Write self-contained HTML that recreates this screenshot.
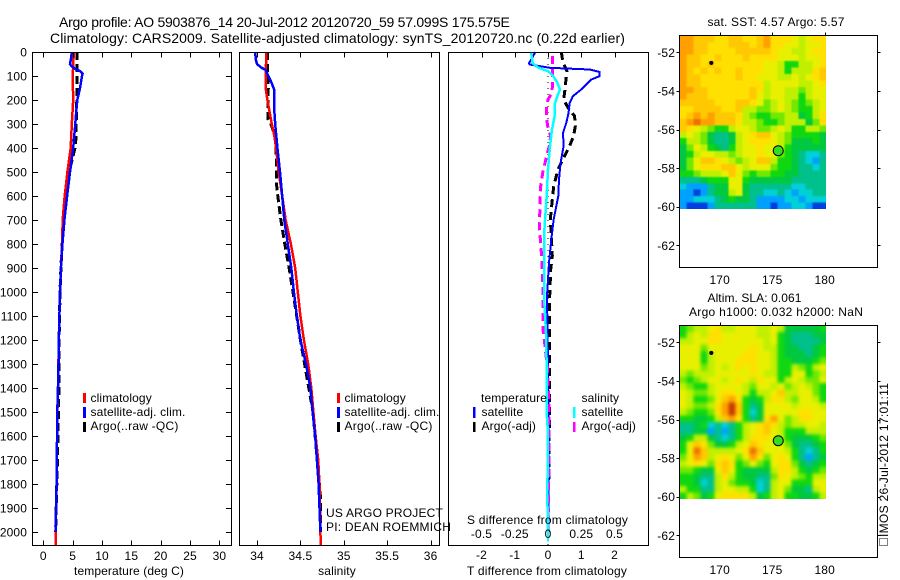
<!DOCTYPE html>
<html lang="en">
<head>
<meta charset="utf-8">
<title>Argo profile 5903876_14</title>
<style>
html,body{margin:0;padding:0;background:#fff;}
svg{display:block;}
text{font-family:"Liberation Sans",sans-serif;font-size:12px;fill:#000;letter-spacing:0.12px;}
</style>
</head>
<body>
<svg id="chart" xmlns="http://www.w3.org/2000/svg" width="900" height="580" viewBox="0 0 900 580">
  <defs>
    <filter id="blur-sst" color-interpolation-filters="sRGB"><feGaussianBlur stdDeviation="0.8"/></filter>
    <filter id="blur-sla" color-interpolation-filters="sRGB"><feGaussianBlur stdDeviation="1.6"/></filter>
    <clipPath id="clip-sst"><rect x="679" y="35" width="147" height="174"/></clipPath>
    <clipPath id="clip-sla"><rect x="679" y="325" width="147" height="174"/></clipPath>
  </defs>
  <rect x="0" y="0" width="900" height="580" fill="#fff"/>
  <text x="59" y="27" style="font-size:14px" textLength="451" lengthAdjust="spacing">Argo profile: AO 5903876_14 20-Jul-2012 20120720_59 57.099S 175.575E</text>
  <text x="50" y="43" style="font-size:14px" textLength="575" lengthAdjust="spacing">Climatology: CARS2009. Satellite-adjusted climatology: synTS_20120720.nc (0.22d earlier)</text>
  <g id="panels"></g>
  <g id="overlay">
    <text x="74" y="575" textLength="110" lengthAdjust="spacing">temperature (deg C)</text>
    <text x="337" y="575" text-anchor="middle">salinity</text>
    <text x="467" y="575" textLength="160" lengthAdjust="spacing">T difference from climatology</text>
    <text x="467" y="524" textLength="161" lengthAdjust="spacing">S difference from climatology</text>
    <text x="326" y="517" textLength="117" lengthAdjust="spacing">US ARGO PROJECT</text>
    <text x="326" y="531" textLength="125" lengthAdjust="spacing">PI: DEAN ROEMMICH</text>

    <rect x="83" y="393" width="3" height="10" fill="#f00"/>
    <rect x="83" y="407" width="3" height="11" fill="#00f"/>
    <rect x="83" y="422" width="3" height="10" fill="#000"/>
    <text x="90.5" y="402">climatology</text>
    <text x="90.5" y="416" textLength="95" lengthAdjust="spacing">satellite-adj. clim.</text>
    <text x="90.5" y="430" textLength="88" lengthAdjust="spacing">Argo(..raw -QC)</text>

    <rect x="337" y="393" width="3" height="10" fill="#f00"/>
    <rect x="337" y="407" width="3" height="11" fill="#00f"/>
    <rect x="337" y="422" width="3" height="10" fill="#000"/>
    <text x="344.5" y="402">climatology</text>
    <text x="344.5" y="416" textLength="95" lengthAdjust="spacing">satellite-adj. clim.</text>
    <text x="344.5" y="430" textLength="88" lengthAdjust="spacing">Argo(..raw -QC)</text>

    <text x="481" y="402">temperature</text>
    <rect x="473" y="407" width="2.5" height="11" fill="#00f"/>
    <rect x="473" y="422" width="2.5" height="10" fill="#000"/>
    <text x="481.5" y="416">satellite</text>
    <text x="481.5" y="430">Argo(-adj)</text>
    <text x="581.5" y="402">salinity</text>
    <rect x="573" y="407" width="2.5" height="11" fill="#0ff"/>
    <rect x="573" y="422" width="2.5" height="10" fill="#f0f"/>
    <text x="581.5" y="416">satellite</text>
    <text x="581.5" y="430">Argo(-adj)</text>

    <text x="707.5" y="26" textLength="137" lengthAdjust="spacing">sat. SST: 4.57 Argo: 5.57</text>
    <text x="707.5" y="302" textLength="94" lengthAdjust="spacing">Altim. SLA: 0.061</text>
    <text x="689" y="316" textLength="174" lengthAdjust="spacing">Argo h1000: 0.032 h2000: NaN</text>

    <text transform="translate(888,537) rotate(-90)" textLength="154" lengthAdjust="spacing">IMOS 26-Jul-2012 17:01:11</text>
    <rect x="879.5" y="538.5" width="8" height="7" fill="none" stroke="#000" stroke-width="1" stroke-dasharray="1 1" shape-rendering="crispEdges"/>
  </g>
</svg>
<script>
// ---------- profile data: depth (m) + value ----------
const tClimDepth = [0,100,200,300,400,500,600,700,800,900,1000,1100,1200,1300,1400,1500,1600,1700,1800,1900,2000,2054];
const tClimValue = [5.2,5.0,5.1,4.85,4.67,4.1,3.65,3.3,3.2,3.0,2.85,2.75,2.65,2.58,2.5,2.4,2.35,2.3,2.27,2.18,2.08,2.08];
const tSatDepth = [0,30,50,60,70,80,90,100,150,200,250,300,400,500,600,700,800,900,1000,1100,1200,1350,1500,1800,2000];
const tSatValue = [4.85,4.7,4.55,4.85,5.4,6.25,6.7,6.6,6.25,5.8,5.6,5.45,5.1,4.55,4.05,3.6,3.25,3.0,2.85,2.75,2.65,2.55,2.38,2.27,2.08];
const tArgoDepth = [0,100,200,300,350,400,500,600,700,800,900,1000,1200,1400,1700,2000];
const tArgoValue = [5.7,5.7,5.7,5.6,5.6,5.4,4.4,3.87,3.4,3.2,3.0,2.85,2.7,2.67,2.4,2.1];

const sClimDepth = [0,100,150,200,300,350,400,500,600,700,800,900,1000,1100,1200,1300,1400,1500,1600,1700,1800,2000,2054];
const sClimValue = [34.107,34.1,34.1,34.12,34.17,34.2,34.22,34.25,34.29,34.33,34.39,34.44,34.47,34.5,34.54,34.59,34.625,34.65,34.675,34.705,34.72,34.73,34.735];
const sSatDepth = [0,30,50,65,75,100,130,160,250,300,400,500,600,700,800,900,1000,1100,1200,1300,1400,1500,1600,1700,1800,1900,2000];
const sSatValue = [33.98,33.985,34.0,34.05,34.1,34.13,34.17,34.2,34.2,34.21,34.235,34.265,34.29,34.315,34.355,34.395,34.425,34.46,34.5,34.565,34.615,34.64,34.67,34.69,34.71,34.72,34.73];
const sArgoDepth = [0,100,150,200,280,300,350,400,500,550,600,700,800,900,1000,1200,1500,1850,2000];
const sArgoValue = [34.12,34.12,34.13,34.125,34.125,34.16,34.21,34.22,34.225,34.225,34.24,34.275,34.32,34.37,34.415,34.5,34.645,34.73,34.73];

const dtSatDepth = [0,47,52,66,73,83,101,115,156,184,212,253,295,337,392,462,531,600,697,781,878,1017,1300,1600,2000];
const dtSatValue = [-0.38,-0.57,-0.55,0.05,1.25,1.55,1.55,1.3,1.0,0.75,0.65,0.62,0.55,0.45,0.47,0.38,0.33,0.31,0.17,0.1,0.03,-0.03,0,0.02,0.02];
const dtArgoDepth = [0,26,52,80,128,170,198,232,267,309,350,392,433,489,559,628,697,767,850,906,1017,1408,1800];
const dtArgoValue = [0.4,0.43,0.48,0.57,0.53,0.5,0.47,0.6,0.8,0.82,0.77,0.65,0.5,0.3,0.17,0.12,0.07,0.1,0.13,0.08,0.05,0.05,0.02];
const dsSatDepth = [0,47,66,80,101,128,156,184,219,267,323,392,489,600,683,767,878,1017,1172,1310,1505,1589,1853,1992,2040];
const dsSatValue = [-0.128,-0.115,-0.07,0,0.04,0.07,0.09,0.07,0.05,0.05,0.03,0.015,0,-0.01,-0.02,-0.03,-0.03,-0.03,-0.015,-0.01,-0.01,0,-0.005,0,0];
const dsArgoDepth = [17,73,115,170,198,226,281,316,350,392,433,503,559,628,739,794,878,1017,1075,1158,1200,1311,1450,1728,1992];
const dsArgoValue = [0.035,0.035,0.035,0.03,0,-0.01,-0.01,0,0.02,0.01,-0.01,-0.04,-0.055,-0.06,-0.065,-0.055,-0.045,-0.035,-0.037,-0.037,-0.028,-0.005,0.007,0.007,0];
const zeroLineDepth = [0,2054];
const zeroLineValue = [0,0];

// ---------- tick labels ----------
const depthTicks = [0,100,200,300,400,500,600,700,800,900,1000,1100,1200,1300,1400,1500,1600,1700,1800,1900,2000];
const tempTicks = [0,5,10,15,20,25,30];
const salTicks = [34,34.5,35,35.5,36];
const dtTicks = [-2,-1,0,1,2];
const dsTicks = [-0.5,-0.25,0,0.25,0.5];
const lonTicks = [170,175,180];
const latTicks = [-52,-54,-56,-58,-60,-62];

// ---------- map data ----------
const floatLon = [175.575];
const floatLat = [-57.099];
const markerLon = [169.2];
const markerLat = [-52.55];
const gridLonStart = [166.15];
const gridLatStart = [-51.12];
const gridLonStep = [0.6667];
const gridLatStep = [0.3333];

const levelColors = ['#0040e0','#00a0ff','#00d0d8','#00c08c','#00c840','#10d810','#70e800','#c0f000','#e8f000','#ffe000','#ffc800','#ffa000','#f07000','#c83c00'];

const sstGrid = [
[11,11,10,10,10,9,9,10,10,9,9,10,11,9,9,9,8,7,8,9,9],
[11,11,10,10,9,9,9,10,10,10,9,10,11,9,9,8,8,7,8,8,9],
[11,11,10,10,9,9,9,9,10,10,10,10,10,9,8,8,7,7,8,9,9],
[11,10,10,9,9,10,9,9,9,10,9,9,9,9,8,8,8,7,8,8,9],
[11,10,10,9,10,9,9,9,9,9,9,9,8,8,7,5,5,7,7,8,9],
[11,10,9,10,9,10,9,9,10,9,9,9,8,8,7,5,7,7,7,9,10],
[11,10,10,9,9,9,9,9,10,9,9,8,8,8,7,7,8,7,8,9,10],
[11,10,10,9,9,9,9,9,9,9,9,9,7,8,8,8,8,7,7,8,9],
[11,11,10,10,9,9,9,9,9,9,10,9,7,8,8,7,7,6,7,8,8],
[11,10,10,10,9,9,9,9,9,9,10,8,7,8,8,7,7,5,7,8,8],
[10,10,10,10,10,9,9,9,10,10,9,8,6,7,8,7,6,5,6,7,8],
[9,9,10,10,10,10,9,9,10,7,7,6,6,7,8,7,6,5,5,7,8],
[9,10,11,10,11,10,10,10,9,7,6,5,5,6,6,7,7,4,5,7,9],
[10,11,12,11,11,10,10,10,9,7,7,6,5,5,6,7,7,7,4,6,9],
[10,9,8,7,6,5,5,7,8,8,7,6,6,7,8,7,5,5,7,7,6],
[7,8,7,6,4,3,3,4,7,8,9,10,10,8,7,6,5,5,5,5,4],
[5,7,7,6,4,3,3,4,7,8,9,9,9,8,7,6,4,4,4,5,4],
[4,6,8,7,5,4,3,5,7,8,8,9,8,8,7,5,4,4,4,4,4],
[4,5,7,8,8,7,7,6,7,8,8,9,8,8,6,5,4,3,2,2,3],
[4,6,8,10,10,9,8,7,6,7,8,10,10,7,5,5,4,3,2,1,3],
[4,6,8,9,9,9,10,10,8,7,8,8,8,6,5,5,4,3,3,2,3],
[5,5,6,7,7,7,8,10,8,6,5,6,6,5,5,4,4,3,3,3,3],
[3,3,3,4,5,5,5,8,8,5,4,4,4,4,4,4,3,3,3,3,3],
[2,1,1,1,3,4,4,8,8,4,3,3,3,3,3,3,2,2,3,3,3],
[1,1,0,1,3,4,4,7,8,4,3,3,2,2,3,2,1,2,2,3,3],
[1,1,2,2,2,3,4,5,4,4,3,1,1,1,1,2,2,1,2,2,2],
[1,0,0,0,1,3,3,3,3,3,3,1,1,0,1,1,2,2,1,0,0]
];

const slaGrid = [
[5,6,7,7,8,9,7,7,8,8,8,7,7,8,7,4,4,4,4,4,5],
[5,7,8,7,9,9,8,8,8,8,8,7,7,8,5,4,3,3,3,4,4],
[7,7,8,8,9,9,8,8,8,8,8,8,7,8,5,4,3,3,3,3,4],
[8,8,8,6,8,8,8,8,8,8,9,8,7,7,5,4,4,3,3,4,5],
[8,8,8,5,7,8,8,8,8,9,9,8,8,7,5,4,4,4,3,4,5],
[8,8,8,5,7,8,8,8,9,9,9,8,8,7,5,5,4,4,4,5,6],
[8,8,8,6,7,8,7,8,9,8,9,8,8,7,5,5,7,6,5,7,8],
[7,6,7,7,7,8,8,8,8,8,9,8,7,7,5,5,8,8,5,6,7],
[6,5,6,7,8,8,7,8,9,8,7,9,8,8,5,7,8,7,6,6,8],
[7,6,5,5,7,8,8,8,8,7,6,8,8,7,8,6,7,8,7,6,5],
[8,7,6,6,7,8,9,9,8,7,5,7,7,8,10,7,7,8,8,6,5],
[8,7,5,5,6,8,10,11,9,5,4,5,7,9,9,7,6,8,8,7,5],
[8,7,6,6,7,9,11,13,10,5,3,4,8,8,8,8,7,8,8,8,7],
[7,6,5,5,6,9,11,13,10,5,2,4,8,8,8,8,8,9,9,8,8],
[5,5,4,4,5,7,10,11,9,5,3,4,9,11,8,6,7,9,9,8,8],
[3,3,4,5,2,3,2,3,5,7,8,9,10,9,7,6,7,7,8,8,7],
[3,3,4,4,1,3,1,3,5,7,8,9,10,8,7,5,5,5,7,7,7],
[4,5,7,7,4,3,2,3,5,7,9,9,9,8,7,5,4,4,4,5,6],
[5,8,10,9,6,4,4,5,7,8,10,9,8,8,8,6,4,3,3,4,5],
[5,8,12,10,7,7,7,7,8,9,12,10,8,8,8,7,5,3,2,3,5],
[6,8,11,10,7,8,9,8,6,8,11,9,6,8,9,8,5,3,1,3,4],
[7,8,9,8,6,9,10,9,5,6,8,6,5,8,9,9,6,4,3,4,5],
[6,6,5,4,4,8,10,8,5,4,4,4,4,7,9,9,7,5,4,5,6],
[5,5,4,3,3,7,9,7,5,4,4,3,3,6,9,8,7,6,5,7,7],
[5,5,4,2,3,7,8,6,5,5,4,2,3,7,8,8,5,5,5,8,8],
[7,5,5,3,3,7,8,8,7,7,5,2,3,7,8,6,4,4,3,7,8],
[5,7,6,4,5,8,9,9,9,9,7,4,5,7,8,5,5,4,4,5,7]
];

// ---------- axis functions ----------
const NS = 'http://www.w3.org/2000/svg';
const panels = document.getElementById('panels');
const depthY = d => 52 + 0.24 * d;
const tempX = t => 43.3 + 5.87 * t;
const salX = s => 257 + 86.8 * (s - 34);
const dtX = t => 548 + 33.25 * t;
const dsX = s => 548 + 133 * s;
const lonX = lon => 719.7 + 10.5 * (lon - 170);
const latOffset = (lat) => 19.3 * (-52 - lat);

function drawProfile(depths, values, xFn, color, width, dash, name) {
  const el = document.createElementNS(NS, 'polyline');
  
  
  el.setAttribute('points', depths.map((d, i) => xFn(values[i]).toFixed(1) + ',' + depthY(d).toFixed(1)).join(' '));
  el.setAttribute('fill', 'none');
  el.setAttribute('stroke', color);
  el.setAttribute('stroke-width', width);
  el.setAttribute('shape-rendering', 'crispEdges');
  if (dash) el.setAttribute('stroke-dasharray', dash);
  panels.appendChild(el);
}

function drawFrame(x, y, w, h, name) {
  const el = document.createElementNS(NS, 'rect');
  
  
  el.setAttribute('x', x);
  el.setAttribute('y', y);
  el.setAttribute('width', w);
  el.setAttribute('height', h);
  el.setAttribute('fill', 'none');
  el.setAttribute('stroke', '#000');
  el.setAttribute('stroke-width', 1);
  el.setAttribute('shape-rendering', 'crispEdges');
  panels.appendChild(el);
}

function drawTick(x1, y1, x2, y2, name) {
  const el = document.createElementNS(NS, 'line');
  
  
  el.setAttribute('x1', x1);
  el.setAttribute('y1', y1);
  el.setAttribute('x2', x2);
  el.setAttribute('y2', y2);
  el.setAttribute('stroke', '#000');
  el.setAttribute('stroke-width', 1);
  el.setAttribute('shape-rendering', 'crispEdges');
  panels.appendChild(el);
}

function drawLabel(x, y, str, anchor, name) {
  const el = document.createElementNS(NS, 'text');
  
  
  el.setAttribute('x', x);
  el.setAttribute('y', y);
  el.setAttribute('text-anchor', anchor);
  el.textContent = str;
  panels.appendChild(el);
}

function drawCell(parent, x, y, w, h, color, name) {
  const el = document.createElementNS(NS, 'rect');
  
  
  el.setAttribute('x', x.toFixed(2));
  el.setAttribute('y', y.toFixed(2));
  el.setAttribute('width', w.toFixed(2));
  el.setAttribute('height', h.toFixed(2));
  el.setAttribute('fill', color);
  el.setAttribute('shape-rendering', 'crispEdges');
  parent.appendChild(el);
}

function drawCircle(cx, cy, r, fill, stroke, name) {
  const el = document.createElementNS(NS, 'circle');
  
  
  el.setAttribute('cx', cx);
  el.setAttribute('cy', cy);
  el.setAttribute('r', r);
  el.setAttribute('fill', fill);
  el.setAttribute('stroke', stroke);
  panels.appendChild(el);
}

const TOP = 52.5, BOTTOM = 545.5;

// ---------- profile panels: series ----------
drawProfile(tArgoDepth, tArgoValue, tempX, '#000', 3, '8 4', 'temperature-argo-line');
drawProfile(tClimDepth, tClimValue, tempX, '#f00', 2.5, null, 'temperature-climatology-line');
drawProfile(tSatDepth, tSatValue, tempX, '#00f', 2.5, null, 'temperature-satellite-line');

drawProfile(sArgoDepth, sArgoValue, salX, '#000', 3, '8 4', 'salinity-argo-line');
drawProfile(sClimDepth, sClimValue, salX, '#f00', 2.5, null, 'salinity-climatology-line');
drawProfile(sSatDepth, sSatValue, salX, '#00f', 2.5, null, 'salinity-satellite-line');

drawProfile(zeroLineDepth, zeroLineValue, dtX, '#000', 1, '1 5', 'difference-zero-line');
drawProfile(dtArgoDepth, dtArgoValue, dtX, '#000', 3, '8 5', 't-difference-argo-line');
drawProfile(dtSatDepth, dtSatValue, dtX, '#00f', 2, null, 't-difference-satellite-line');
drawProfile(dsArgoDepth, dsArgoValue, dsX, '#f0f', 3, '8 5', 's-difference-argo-line');
drawProfile(dsSatDepth, dsSatValue, dsX, '#0ff', 2.5, null, 's-difference-satellite-line');

// ---------- profile panels: frames, ticks, labels ----------
drawFrame(32.5, TOP, 199, 493, 'temperature-panel-frame');
drawFrame(239.5, TOP, 200, 493, 'salinity-panel-frame');
drawFrame(448.5, TOP, 200, 493, 'difference-panel-frame');

depthTicks.forEach(d => {
  const y = Math.round(depthY(d)) + 0.5;
  drawTick(32.5, y, 38, y, 'depth-tick-left');
  drawTick(226, y, 231.5, y, 'depth-tick-right');
  drawLabel(27, depthY(d) + 4.5, String(d), 'end', 'depth-tick-label');
});
tempTicks.forEach(t => {
  const x = Math.round(tempX(t)) + 0.5;
  drawTick(x, TOP, x, TOP + 5, 'temperature-tick-top');
  drawTick(x, BOTTOM - 5, x, BOTTOM, 'temperature-tick-bottom');
  drawLabel(tempX(t), 560, String(t), 'middle', 'temperature-tick-label');
});
salTicks.forEach(s => {
  const x = Math.round(salX(s)) + 0.5;
  drawTick(x, TOP, x, TOP + 5, 'salinity-tick-top');
  drawTick(x, BOTTOM - 5, x, BOTTOM, 'salinity-tick-bottom');
  drawLabel(salX(s), 560, String(s), 'middle', 'salinity-tick-label');
});
dtTicks.forEach(t => {
  const x = Math.round(dtX(t)) + 0.5;
  drawTick(x, TOP, x, TOP + 5, 'difference-tick-top');
  drawLabel(dtX(t), 559, String(t), 'middle', 't-difference-tick-label');
});
dsTicks.forEach(s => {
  drawLabel(dsX(s), 538, String(s), 'middle', 's-difference-tick-label');
});

// ---------- maps ----------
function drawMap(grid, latZeroY, frameTop, key) {
  const latY = lat => latZeroY + latOffset(lat);
  const clipGroup = document.createElementNS(NS, 'g');
  
  
  clipGroup.setAttribute('clip-path', 'url(#clip-' + key + ')');
  panels.appendChild(clipGroup);
  const blurGroup = document.createElementNS(NS, 'g');
  
  
  blurGroup.setAttribute('filter', 'url(#blur-' + key + ')');
  clipGroup.appendChild(blurGroup);
  const lastRow = grid.length - 1;
  grid.forEach((row, j) => {
    const lastCol = row.length - 1;
    row.forEach((level, i) => {
      const lonA = gridLonStart[0] + i * gridLonStep[0];
      const latA = gridLatStart[0] - j * gridLatStep[0];
      const x0 = lonX(lonA);
      const y0 = latY(latA);
      const x1 = lonX(lonA + gridLonStep[0]);
      const y1 = latY(latA - gridLatStep[0]);
      // border cells overdraw past the clip so the smoothing does not fade at the map edge
      const x = i === 0 ? x0 - 12 : x0;
      const y = j === 0 ? y0 - 12 : y0;
      const w = (i === lastCol ? x1 + 12 : x1) - x;
      const h = (j === lastRow ? y1 + 12 : y1) - y;
      drawCell(blurGroup, x, y, w, h, levelColors[level], key + '-heatmap-cell');
    });
  });
  drawFrame(679.5, frameTop + 0.5, 198, 232, key + '-map-frame');
  lonTicks.forEach(lon => {
    const x = Math.round(lonX(lon)) + 0.5;
    drawTick(x, frameTop - 2.5, x, frameTop + 0.5, key + '-longitude-tick');
    drawLabel(lonX(lon), frameTop + 249, String(lon), 'middle', key + '-longitude-label');
  });
  latTicks.forEach(lat => {
    const y = Math.round(latY(lat)) + 0.5;
    drawTick(676.5, y, 679.5, y, key + '-latitude-tick-left');
    drawTick(877.5, y, 880.5, y, key + '-latitude-tick-right');
    drawLabel(675, latY(lat) + 4.5, String(lat), 'end', key + '-latitude-label');
  });
  drawCircle(lonX(floatLon[0]), latY(floatLat[0]), 5, '#33dd22', '#000', key + '-float-position-marker');
  drawCircle(lonX(markerLon[0]), latY(markerLat[0]), 1.6, '#000', '#000', key + '-reference-dot');
}

drawMap(sstGrid, 52.3, 35, 'sst');
drawMap(slaGrid, 342.3, 325, 'sla');
</script>
</body>
</html>
